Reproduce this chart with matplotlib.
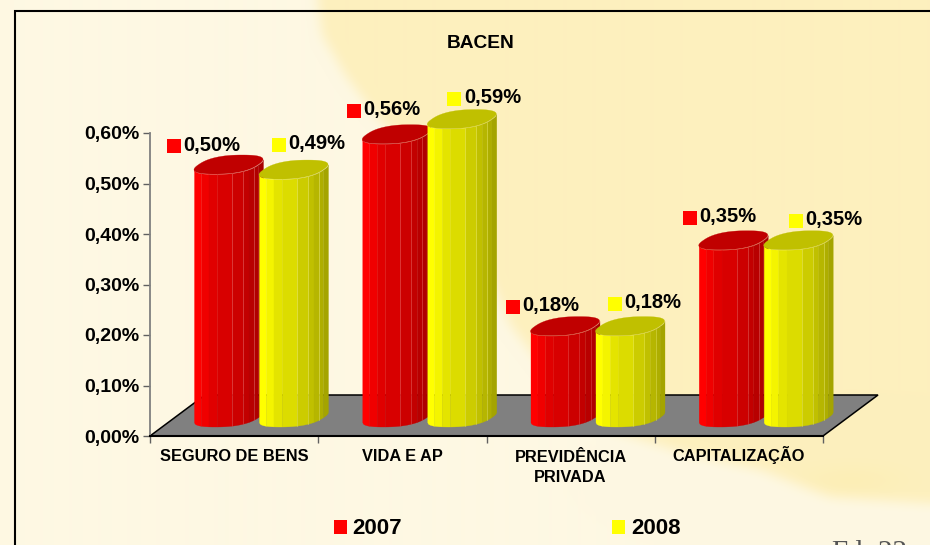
import numpy as np
import matplotlib
matplotlib.use("Agg")
import matplotlib.pyplot as plt
from matplotlib.path import Path
from matplotlib.patches import Patch, Polygon

plt.rcParams['font.family'] = ['Liberation Sans', 'DejaVu Sans']

categories = ['SEGURO DE BENS', 'VIDA E AP', 'PREVIDÊNCIA\nPRIVADA', 'CAPITALIZAÇÃO']
values_2007 = [0.50, 0.56, 0.18, 0.35]
values_2008 = [0.49, 0.59, 0.18, 0.35]
y_ticks = [0.0, 0.1, 0.2, 0.3, 0.4, 0.5, 0.6]
series_names = ['2007', '2008']
title = 'BACEN'

W, H = 930, 545
# layout (pixels)
AX_L, AX_R, AX_T, AX_B = 150, 823, 133, 436
PX = (AX_R - AX_L) / 4.0
PY = (AX_B - AX_T) / 0.6
label_offsets_2007 = [(-20.5, -18), (-8, -23), (-17.5, -19.5), (-9, -22)]
label_offsets_2008 = [(20, -25), (27, -20), (19, -22), (32, -19)]


def pct(v):
    return f'{v:.2f}%'.replace('.', ',')


fig = plt.figure(figsize=(W / 100, H / 100), dpi=100)

# ---- background ----
bg = fig.add_axes([0, 0, 1, 1], zorder=0)
bg.axis('off')
yy, xx = np.mgrid[0:H, 0:W]
boundary = [(312, -40), (322, 35), (345, 75), (375, 115), (420, 160), (470, 220), (490, 280),
            (510, 325), (560, 390), (610, 430), (680, 452), (760, 470), (830, 497),
            (980, 507), (980, -40)]
mask = Path(boundary).contains_points(np.c_[xx.ravel() + .5, yy.ravel() + .5]).reshape(H, W).astype(float)


def blur(a, r):
    k = np.ones(2 * r + 1) / (2 * r + 1)
    pad = np.pad(a, r + 1, mode='edge')
    for ax_ in (0, 1):
        pad = np.apply_along_axis(lambda m: np.convolve(m, k, mode='same'), ax_, pad)
    return pad[r + 1:-r - 1, r + 1:-r - 1]


soft = blur(blur(mask, 6), 6)
blob = np.exp(-(((xx - 850) / 50.0) ** 2 + ((yy - 480) / 16.0) ** 2)) * 0.2
strength = np.clip(soft, 0, 1)[..., None]
cream = np.array([254, 248, 227]) / 255
yellow = np.array([253, 240, 190]) / 255
img = cream + (yellow - cream) * strength + (yellow - cream) * blob[..., None]
bg.imshow(np.clip(img, 0, 1), extent=(0, W, H, 0), aspect='auto', interpolation='bilinear')
bg.set_xlim(0, W)
bg.set_ylim(H, 0)
# outer frame
bg.plot([15, 15, W], [H, 10.5, 10.5], color='black', lw=1.5, solid_joinstyle='miter')
bg.text(832, 559.5, 'F l. 22', family='Liberation Serif', fontsize=21, color='#555555', va='baseline', clip_on=True)

# ---- chart axes ----
ax = fig.add_axes([AX_L / W, 1 - AX_B / H, (AX_R - AX_L) / W, (AX_B - AX_T) / H], zorder=2)
ax.patch.set_alpha(0)
ax.set_xlim(0, 4)
ax.set_ylim(0, 0.6)
for s in ('top', 'right'):
    ax.spines[s].set_visible(False)
ax.spines['left'].set_color('#808080')
ax.spines['left'].set_linewidth(1.3)
ax.spines['bottom'].set_color('black')
ax.spines['bottom'].set_linewidth(1.5)
ax.set_yticks(y_ticks)
ax.set_yticklabels([pct(v) for v in y_ticks], fontsize=14, fontweight='bold')
ax.tick_params(axis='y', length=5, width=1, color='#606060', pad=2.5)
ax.set_xticks(range(5))
ax.set_xticklabels([])
ax.tick_params(axis='x', which='major', length=5, width=1, color='#606060')
ax.set_xticks(np.arange(4) + 0.5, minor=True)
ax.set_xticklabels(categories, minor=True, fontsize=11.8, fontweight='bold', linespacing=1.42, va='baseline')
ax.tick_params(axis='x', which='minor', length=0, pad=18)
# multi-line labels sit on their last line: drop them so all first lines share a baseline
for tick, name in zip(ax.xaxis.get_minor_ticks(), categories):
    tick.label1.set_y(-21 * name.count('\n') / (AX_B - AX_T))

# floor
floor_dx, floor_dy = 55 / PX, 41 / PY
floor = [(0, 0), (4, 0), (4 + floor_dx, floor_dy), (floor_dx, floor_dy)]
ax.add_patch(Polygon(floor, closed=True, facecolor='#808080', edgecolor='black', lw=1.1, clip_on=False, zorder=1))

# cylinder geometry (sheared super-ellipse for the rounded caps)
BASE = 19 / PY
A, B, S = 31.3 / PX, 9.5 / PY, 14.5 / PX
HALF = 34.5 / PX
t = np.linspace(0, 2 * np.pi, 361)
c_, s_ = np.cos(t), np.sin(t)
cc = np.sign(c_) * np.abs(c_) ** 0.8
ss = np.sign(s_) * np.abs(s_) ** 0.8
ex, ey = A * cc + S * ss, B * ss
ex *= HALF / ex.max()
i_r, i_l = int(np.argmax(ex)), int(np.argmin(ex))
# lower half of the cap outline, running from the left extreme to the right extreme
order = np.arange(i_l, i_r + (len(t) if i_r < i_l else 0) + 1) % len(t)
lo_x, lo_y = ex[order], ey[order]
srt = np.argsort(lo_x)
lo_x, lo_y = lo_x[srt], lo_y[srt]

strip_edges = np.array([0, .10, .21, .33, .55, .71, .79, .87, .93, 1.0])
rim_lines = [.55, .71, .87]
shades = {
    'r': (['#ff0000', '#f00000', '#e00000', '#d80000', '#cc0000', '#c20000', '#b80000', '#b00000', '#a80000'], '#c00000', '#e86060'),
    'y': (['#ffff00', '#f4f400', '#e4e400', '#dcdc00', '#cccc00', '#c0c000', '#b6b600', '#aeae00', '#a4a400'], '#c0c000', '#f0f070'),
}


def cylinder(cx, val, key, z):
    cols, cap, line = shades[key]
    top = val + BASE
    xl = cx - HALF
    w = 2 * HALF
    for i, c in enumerate(cols):
        xs = np.linspace(xl + strip_edges[i] * w, xl + strip_edges[i + 1] * w, 12)
        off = np.interp(xs - cx, lo_x, lo_y)
        ax.fill_between(xs, BASE + off, top + off, color=c, lw=0.2, clip_on=False, zorder=z)
    for f in rim_lines:
        xf = xl + f * w
        off = np.interp(xf - cx, lo_x, lo_y)
        ax.plot([xf, xf], [BASE + off, top + off], color=line, lw=0.5, alpha=.55,
                clip_on=False, zorder=z + .1)
    ax.fill(cx + ex, top + ey, color=cap, lw=0.2, clip_on=False, zorder=z + .2)


def value_label(cx, val, off, colour):
    xm = cx - HALF + off[0] / PX
    ym = val + BASE - off[1] / PY
    ax.plot([xm], [ym], 's', color=colour, ms=9.4, mew=0, clip_on=False, zorder=6)
    ax.text(xm + 9.5 / PX, ym + 1.5 / PY, pct(val), fontsize=14.5, fontweight='bold',
            va='center', ha='left', clip_on=False, zorder=6)


RED_C = (194 + HALF * PX - AX_L) / PX
YEL_C = (259 + HALF * PX - AX_L) / PX
for i, (a, b) in enumerate(zip(values_2007, values_2008)):
    cylinder(i + RED_C, a, 'r', 2 + i)
    cylinder(i + YEL_C, b, 'y', 2.5 + i)
    value_label(i + RED_C, a, label_offsets_2007[i], '#ff0000')
    value_label(i + YEL_C, b, label_offsets_2008[i], '#ffff00')

fig.text(481 / W, 1 - 43.5 / H, title, fontsize=13.8, fontweight='bold', ha='center', va='center', zorder=5)

handles = [Patch(facecolor='#ff0000', label=series_names[0]), Patch(facecolor='#ffff00', label=series_names[1])]
fig.legend(handles=handles, loc='center', bbox_to_anchor=(507 / W, 1 - 529 / H), ncol=2, frameon=False,
           prop={'size': 16, 'weight': 'bold'}, handlelength=0.6, handleheight=0.6, handletextpad=0.25,
           columnspacing=9.45, borderpad=0, borderaxespad=0)

fig.savefig('out.png', dpi=100)
